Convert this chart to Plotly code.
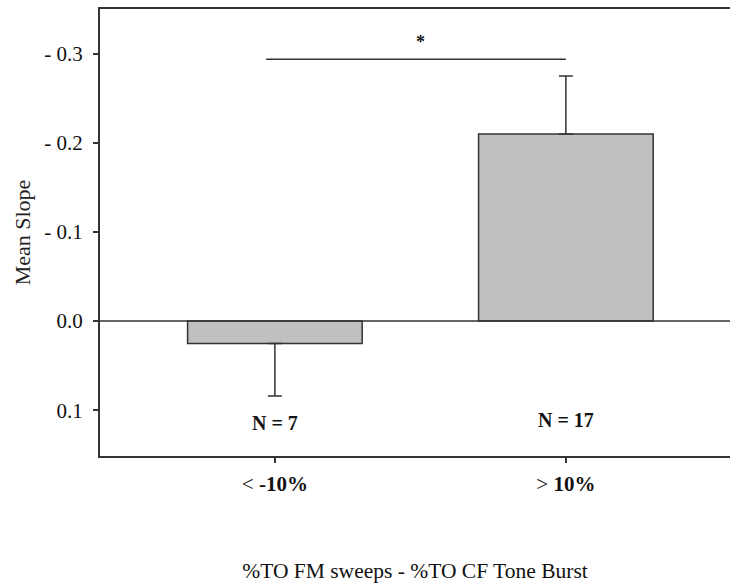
import plotly.graph_objects as go

categories = ["< <b>-10%</b>", "> <b>10%</b>"]
mean_slope = [0.025, -0.21]
err_plus = [0.059, 0.0]
err_minus = [0.0, 0.065]
n_labels = ["N = 7", "N = 17"]
n_y = [0.114, 0.111]
tick_vals = [-0.3, -0.2, -0.1, 0.0, 0.1]
tick_text = ["- 0.3", "- 0.2", "- 0.1", "0.0", "0.1"]
sig_y = -0.294
star_y = -0.313

font_family = "Liberation Serif"
x_idx = [0, 1]

fig = go.Figure()
fig.add_trace(go.Bar(
    x=x_idx, y=mean_slope, width=0.6,
    marker=dict(color="#c0c0c0", line=dict(color="#333333", width=1.5)),
    error_y=dict(type="data", symmetric=False, array=err_plus, arrayminus=err_minus,
                 color="#333333", thickness=1.5, width=7),
    showlegend=False,
))

for xi, lab, yy in zip(x_idx, n_labels, n_y):
    fig.add_annotation(x=xi, y=yy, text="<b>" + lab + "</b>", showarrow=False,
                       font=dict(family=font_family, size=20, color="#111"))

# zero line
fig.add_shape(type="line", xref="paper", x0=0, x1=1, yref="y", y0=0, y1=0,
              line=dict(color="#333333", width=1.5))
# significance bar
fig.add_shape(type="line", xref="x", x0=-0.03, x1=1.0, yref="y", y0=sig_y, y1=sig_y,
              line=dict(color="#333333", width=1.5))
fig.add_annotation(x=0.5, y=star_y, text="<b>*</b>", showarrow=False,
                   font=dict(family=font_family, size=18, color="#111"))

fig.update_layout(
    width=730, height=583,
    margin=dict(l=100, r=0, t=9, b=125),
    plot_bgcolor="white", paper_bgcolor="white",
    font=dict(family=font_family, size=20, color="#111"),
    xaxis=dict(
        range=[-0.601, 1.564], tickvals=x_idx, ticktext=categories,
        showline=True, linecolor="#333333", linewidth=2, mirror=True,
        ticks="outside", ticklen=5, tickcolor="#333333", tickwidth=1.5,
        showgrid=False, zeroline=False,
        tickfont=dict(family=font_family, size=21),
        ticklabelstandoff=3,
        title=dict(text="%TO FM sweeps - %TO CF Tone Burst",
                   font=dict(family=font_family, size=21.5), standoff=72),
    ),
    yaxis=dict(
        range=[0.1514, -0.3503], tickvals=tick_vals, ticktext=tick_text,
        showline=True, linecolor="#333333", linewidth=2,
        ticks="outside", ticklen=5, tickcolor="#333333", tickwidth=1.5,
        showgrid=False, zeroline=False,
        tickfont=dict(family=font_family, size=21),
        ticklabelstandoff=6,
        title=dict(text="Mean Slope", font=dict(family=font_family, size=22, color="#222"),
                   standoff=8),
    ),
)

fig.write_html(
    "out.html",
    config={"displayModeBar": False},
    post_script=(
        "document.body.style.margin='0';"
        "document.body.style.overflow='hidden';"
        "document.documentElement.style.overflow='hidden';"
    ),
)
